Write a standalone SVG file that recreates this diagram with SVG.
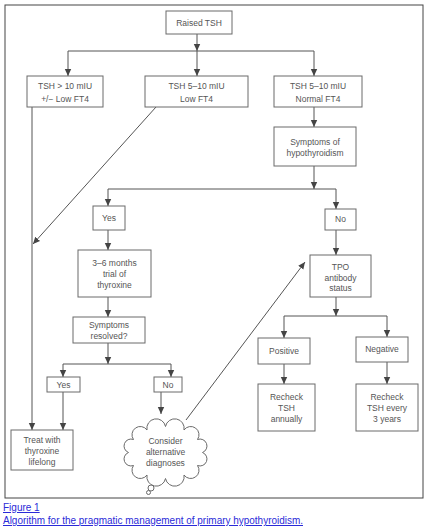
<svg xmlns="http://www.w3.org/2000/svg" width="428" height="528" viewBox="0 0 428 528">
<style>
.box{fill:#fff;stroke:#6a6a6a;stroke-width:1}
.t{font-family:"Liberation Sans",Arial,sans-serif;font-size:8.5px;fill:#555;text-anchor:middle}
.c{stroke:#555;stroke-width:1;fill:none}
.a{marker-end:url(#ah)}
.cap{font-family:"Liberation Sans",Arial,sans-serif;font-size:10px;fill:#2a2ad8;text-decoration:underline}
</style>
<defs>
<marker id="ah" markerUnits="userSpaceOnUse" markerWidth="8" markerHeight="8" viewBox="0 0 8 8" refX="7" refY="4" orient="auto">
<path d="M0,0.8 L7,4 L0,7.2 Z" fill="#444"/>
</marker>
</defs>
<rect x="0" y="0" width="428" height="528" fill="#fff"/>
<rect x="5" y="5" width="418" height="493" fill="none" stroke="#444" stroke-width="1"/>

<g id="connectors">
<line class="c a" x1="197" y1="34" x2="197" y2="51"/>
<line class="c a" x1="197" y1="51" x2="197" y2="76"/>
<line class="c" x1="68" y1="51" x2="314" y2="51"/>
<line class="c a" x1="68" y1="51" x2="68" y2="76"/>
<line class="c a" x1="314" y1="51" x2="314" y2="76"/>
<line class="c a" x1="314" y1="107" x2="314" y2="127"/>
<line class="c a" x1="314" y1="166" x2="314" y2="189"/>
<line class="c" x1="108" y1="189" x2="336" y2="189"/>
<line class="c a" x1="108" y1="189" x2="108" y2="206"/>
<line class="c a" x1="336" y1="189" x2="336" y2="209"/>
<line class="c a" x1="108" y1="230" x2="108" y2="250"/>
<line class="c a" x1="108" y1="297" x2="108" y2="317"/>
<line class="c a" x1="108" y1="343" x2="108" y2="364"/>
<line class="c" x1="63" y1="364" x2="171" y2="364"/>
<line class="c a" x1="63" y1="364" x2="63" y2="377"/>
<line class="c a" x1="171" y1="364" x2="171" y2="377"/>
<line class="c a" x1="63" y1="392" x2="63" y2="430"/>
<line class="c a" x1="161" y1="392" x2="161" y2="414"/>
<line class="c a" x1="32" y1="107" x2="32" y2="430"/>
<line class="c a" x1="156" y1="107" x2="33" y2="244"/>
<line class="c a" x1="336" y1="230" x2="336" y2="255"/>
<line class="c a" x1="336" y1="297" x2="336" y2="316"/>
<line class="c" x1="284" y1="316" x2="387" y2="316"/>
<line class="c a" x1="284" y1="316" x2="284" y2="338"/>
<line class="c a" x1="387" y1="316" x2="387" y2="337"/>
<line class="c a" x1="284" y1="364" x2="284" y2="384"/>
<line class="c a" x1="387" y1="362" x2="387" y2="384"/>
<line class="c a" x1="186" y1="420" x2="305" y2="262"/>
</g>

<g id="raised-tsh"><rect class="box" x="166" y="11" width="66" height="23"/><text class="t" x="199" y="25.5">Raised TSH</text></g>
<g id="tsh-gt10"><rect class="box" x="27" y="76" width="76" height="31"/><text class="t" x="65" y="89">TSH &gt; 10 mIU</text><text class="t" x="65" y="102">+/− Low FT4</text></g>
<g id="tsh-5-10-low"><rect class="box" x="145" y="76" width="103" height="31"/><text class="t" x="196.5" y="89">TSH 5–10 mIU</text><text class="t" x="196.5" y="102">Low FT4</text></g>
<g id="tsh-5-10-normal"><rect class="box" x="274" y="76" width="88" height="31"/><text class="t" x="318" y="89">TSH 5–10 mIU</text><text class="t" x="318" y="102">Normal FT4</text></g>
<g id="symptoms"><rect class="box" x="274" y="127" width="82" height="39"/><text class="t" x="315" y="145">Symptoms of</text><text class="t" x="315" y="156">hypothyroidism</text></g>
<g id="yes1"><rect class="box" x="93" y="206" width="32" height="24"/><text class="t" x="109" y="221">Yes</text></g>
<g id="no1"><rect class="box" x="325" y="209" width="31" height="21"/><text class="t" x="340.5" y="222">No</text></g>
<g id="trial"><rect class="box" x="78" y="250" width="73" height="47"/><text class="t" x="114.5" y="266">3–6 months</text><text class="t" x="114.5" y="277">trial of</text><text class="t" x="114.5" y="288">thyroxine</text></g>
<g id="resolved"><rect class="box" x="73" y="317" width="72" height="26"/><text class="t" x="109" y="328">Symptoms</text><text class="t" x="109" y="339">resolved?</text></g>
<g id="yes2"><rect class="box" x="47" y="377" width="33" height="15"/><text class="t" x="63.5" y="387.5">Yes</text></g>
<g id="no2"><rect class="box" x="154" y="377" width="28" height="15"/><text class="t" x="168" y="387.5">No</text></g>
<g id="treat"><rect class="box" x="11" y="430" width="62" height="40"/><text class="t" x="42" y="443">Treat with</text><text class="t" x="42" y="454">thyroxine</text><text class="t" x="42" y="464.5">lifelong</text></g>
<g id="cloud">
<path class="box" d="M202.5,452.5 A1,1 0 0 1 197.5,465.5 A1,1 0 0 1 184,475 A1,1 0 0 1 165.5,478.5 A1,1 0 0 1 147,475 A1,1 0 0 1 133.5,465.5 A1,1 0 0 1 128.5,452.5 A1,1 0 0 1 133.5,439.5 A1,1 0 0 1 147,430 A1,1 0 0 1 165.5,426.5 A1,1 0 0 1 184,430 A1,1 0 0 1 197.5,439.5 A1,1 0 0 1 202.5,452.5 Z"/>
<circle class="box" cx="151" cy="488" r="3"/>
<circle class="box" cx="148.5" cy="492.5" r="2"/>
<text class="t" x="165.5" y="444">Consider</text><text class="t" x="165.5" y="455">alternative</text><text class="t" x="165.5" y="466">diagnoses</text>
</g>
<g id="tpo"><rect class="box" x="310" y="255" width="61" height="42"/><text class="t" x="340.5" y="270">TPO</text><text class="t" x="340.5" y="280.5">antibody</text><text class="t" x="340.5" y="291">status</text></g>
<g id="positive"><rect class="box" x="258" y="338" width="52" height="26"/><text class="t" x="284" y="354">Positive</text></g>
<g id="negative"><rect class="box" x="356" y="337" width="52" height="25"/><text class="t" x="382" y="352">Negative</text></g>
<g id="recheck-annual"><rect class="box" x="258" y="384" width="57" height="47"/><text class="t" x="286.5" y="400">Recheck</text><text class="t" x="286.5" y="411">TSH</text><text class="t" x="286.5" y="422">annually</text></g>
<g id="recheck-3y"><rect class="box" x="356" y="384" width="62" height="47"/><text class="t" x="387" y="400">Recheck</text><text class="t" x="387" y="411">TSH every</text><text class="t" x="387" y="422">3 years</text></g>

<text class="cap" x="3" y="511">Figure 1</text>
<text class="cap" x="3" y="524" textLength="300" lengthAdjust="spacingAndGlyphs">Algorithm for the pragmatic management of primary hypothyroidism.</text>
</svg>
